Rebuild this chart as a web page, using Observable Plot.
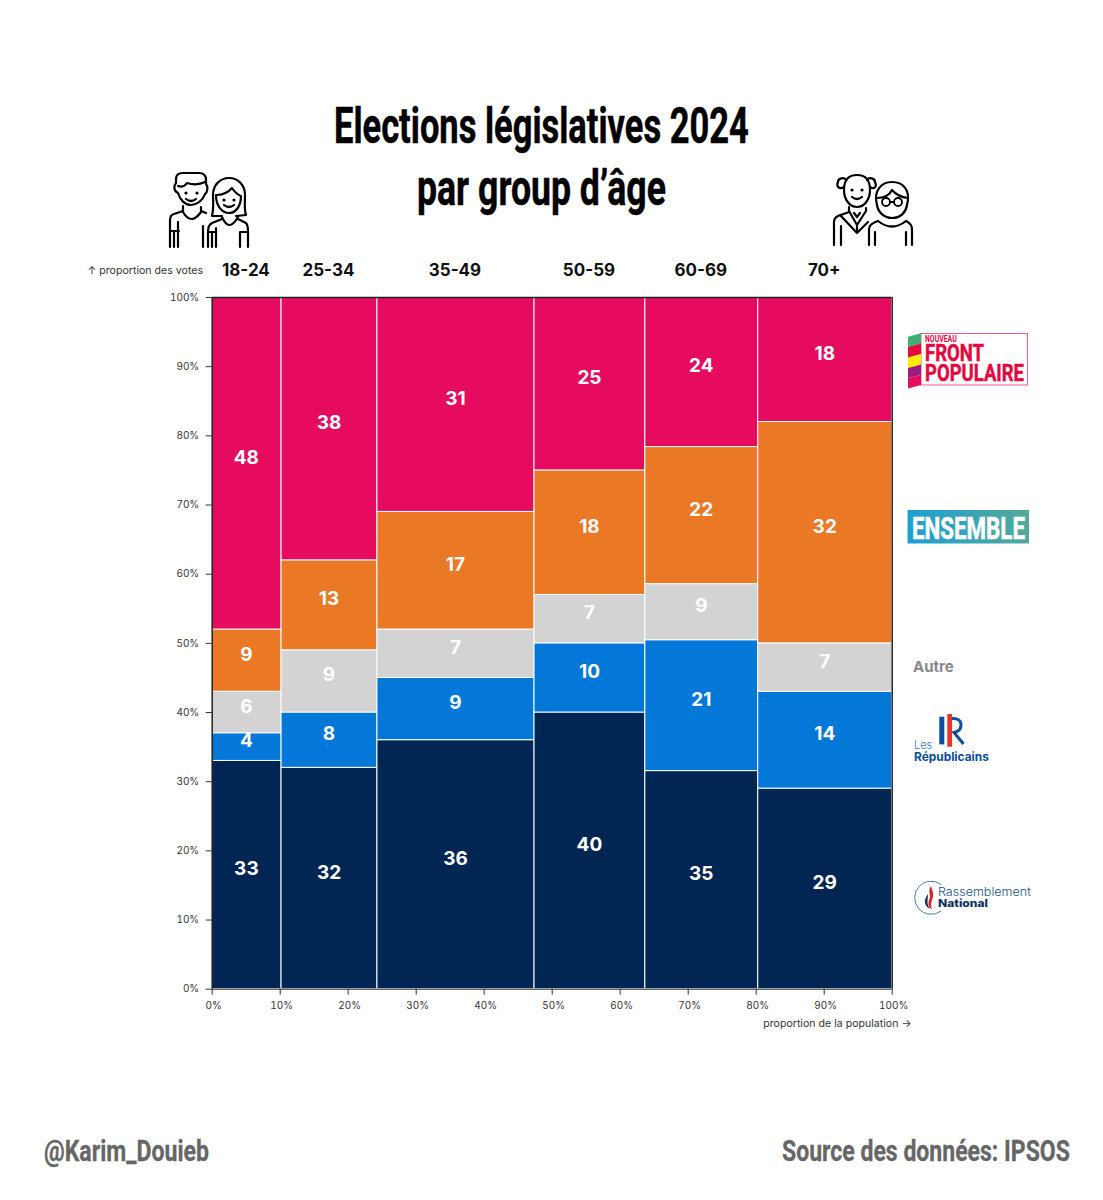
<!DOCTYPE html>
<html lang="fr">
<head>
<meta charset="utf-8">
<script src="https://cdn.jsdelivr.net/npm/d3@7"></script>
<script src="https://cdn.jsdelivr.net/npm/@observablehq/plot@0.6"></script>
<style>
html,body{margin:0;padding:0;background:#fff;}
#page{position:relative;width:1103px;height:1200px;overflow:hidden;}
#chart{position:absolute;left:0;top:263px;}
#deco{position:absolute;left:0;top:0;}
.cond{font-family:"Roboto",sans-serif;font-weight:700;}
</style>
</head>
<body>
<div id="page">
<svg id="deco" width="1103" height="1200" viewBox="0 0 1103 1200" xmlns="http://www.w3.org/2000/svg">
  <defs><linearGradient id="ens"><stop offset="0" stop-color="#1e9fd2"/><stop offset="1" stop-color="#52a99a"/></linearGradient></defs>
  <text class="cond fit" data-w="415" x="334" y="143" font-size="50" fill="#000" stroke="#000" stroke-width=".5">Elections législatives 2024</text>
  <text class="cond fit" data-w="249" x="417" y="205" font-size="50" fill="#000" stroke="#000" stroke-width=".5">par group d’âge</text>
  <text class="cond fit" data-w="165" x="44" y="1161" font-size="30" fill="#666" stroke="#666" stroke-width=".3">@Karim_Douieb</text>
  <text class="cond fit" data-w="288" x="782" y="1161" font-size="30" fill="#666" stroke="#666" stroke-width=".3">Source des données: IPSOS</text>

  <!-- young couple -->
  <g fill="none" stroke="#000" stroke-width="2.2" stroke-linecap="round" stroke-linejoin="round">
    <path d="M178 193C173 191 174 185 176 183L176 179Q176 173 183 173L199 173Q206 173 206 180L206 184C208 186 208 192 205 194C203 200 197 205 191 205C185 205 180 200 178 193Z"/>
    <path d="M178 186Q184 188 187 183Q197 186 205 182"/>
    <path d="M186 199Q191 203 196 199"/>
    <path d="M183 206L183 212Q191 226 201 212L201 207"/>
    <path d="M183 211L174 214Q170 215 170 220L170 247M170 231L179 231M174 231L174 247M178 222L178 247M201 211L206 213M203 226L203 247"/>
    <path d="M212 216C214 208 213 200 213 195C213 184 221 178 229 178C238 178 245 185 245 195C245 203 244 210 246 215L236 216M212 216L222 216"/>
    <path d="M216 195Q226 195 232 188Q236 194 241 196C241 206 236 213 229 213C222 213 216 206 216 195Z"/>
    <path d="M224 205Q229 209 234 205"/>
    <path d="M222 217Q229 233 238 217M222 219L212 223Q208 225 208 232L208 247M208 232L216 232M212 232L212 247M216 228L216 247M238 219L246 223Q248 225 248 232L248 247M240 232L248 232M240 232L240 247"/>
  </g>
  <g fill="#000"><circle cx="186" cy="193" r="1.6"/><circle cx="197" cy="193" r="1.6"/><circle cx="224" cy="200" r="1.6"/><circle cx="234" cy="200" r="1.6"/></g>

  <!-- elderly couple -->
  <g fill="none" stroke="#000" stroke-width="2.2" stroke-linecap="round" stroke-linejoin="round">
    <path d="M844 190C844 180 848 175 857 175C866 175 870 180 870 190C870 200 864 207 857 207C850 207 844 200 844 190Z"/>
    <path d="M844 187C839 190 836 186 838 182C838 178 844 177 846 180M870 187C875 190 877 186 875 182C875 178 869 177 867 180"/>
    <path d="M852 197Q857 201 862 197"/>
    <path d="M849 207L849 211L857 225L866 211L866 208M849 212L838 216Q834 218 834 222L834 245M841 226L841 245M857 225L857 233M854 213L857 217L860 213M840 215L857 233L868 222"/>
    <path d="M877 205C873 190 882 182 892 182C903 182 911 190 907 205C906 212 901 218 892 218C884 218 878 212 877 205Z"/>
    <path d="M877 198Q888 198 892 190Q898 197 908 198"/>
    <path d="M878 221Q892 232 906 221M869 245L869 229Q869 224 878 221M912 245L912 229Q912 224 906 221M875 232L875 245M906 232L906 245"/>
    <g stroke-width="1.8"><circle cx="886" cy="202" r="4"/><circle cx="898" cy="202" r="4"/><path d="M890 202L894 202"/></g>
  </g>
  <g fill="#000"><circle cx="852" cy="190" r="1.6"/><circle cx="862" cy="190" r="1.6"/></g>

  <!-- Nouveau Front Populaire -->
  <rect x="921" y="333.5" width="106.5" height="51.5" fill="#fff" stroke="#ee5c8b" stroke-width="1"/>
  <polygon points="908,336.7 921,333.3 921,343.5 908,347" fill="#3bb273"/>
  <polygon points="908,347 921,343.5 921,354 908,357.5" fill="#e6073f"/>
  <polygon points="908,357.5 921,354 921,364.5 908,368" fill="#ffed00"/>
  <polygon points="908,368 921,364.5 921,375 908,378" fill="#9b1b82"/>
  <polygon points="908,378 921,375 921,385 908,388.5" fill="#e60b5f"/>
  <text class="cond fit" data-w="99" x="925" y="381" font-size="24" fill="#e6073f" stroke="#e6073f" stroke-width=".5"><tspan x="925" y="342.5" font-size="9" stroke="none">NOUVEAU</tspan><tspan x="925" y="361.5">FRONT</tspan><tspan x="925" y="381" data-ref="1">POPULAIRE</tspan></text>

  <!-- Ensemble -->
  <rect x="907.5" y="510" width="121.5" height="33.5" fill="url(#ens)"/>
  <text class="cond fit" data-w="113" x="912" y="539" font-size="31" fill="#fff" stroke="#fff" stroke-width=".6">ENSEMBLE</text>

  <!-- Autre -->
  <text x="913" y="672" font-family="Inter" font-weight="700" font-size="15" fill="#888">Autre</text>

  <!-- Les Républicains -->
  <rect x="939.3" y="716.7" width="5" height="27.7" fill="#0c4da2"/>
  <rect x="947.3" y="714" width="4.8" height="32.7" fill="#e6352b"/>
  <path d="M952 718.5Q961 718 961 725Q961 731 954 732.5L963.5 744" fill="none" stroke="#0c4da2" stroke-width="3"/>
  <text class="fit" data-w="75" x="914" y="761" font-family="Inter" font-weight="700" font-size="12" fill="#0c4da2"><tspan x="914" y="749" font-weight="300" font-size="11" fill="#3f78c0">Les</tspan><tspan x="914" y="761" data-ref="1">Républicains</tspan></text>

  <!-- Rassemblement National -->
  <path d="M941 884.5A16.5 16.5 0 1 0 941 911" fill="none" stroke="#4a7aa5" stroke-width="1"/>
  <path d="M931 886C927 892 932 895 929 900C928 904 928 908 932 909C929 904 934 898 933 893Z" fill="#d8232a"/>
  <path d="M928 894C924 899 923 905 930 909C926 904 928 899 928 894Z" fill="#12335f"/>
  <text class="fit" data-w="93" x="938" y="896" font-family="Inter" font-weight="300" font-size="11" fill="#24527f">Rassemblement</text>
  <text class="fit" data-w="50" x="938" y="907" font-family="Inter" font-weight="800" font-size="11" fill="#12335f">National</text>
</svg>
<div id="chart"></div>
</div>
<script>
const ages = ["18-24","25-34","35-49","50-59","60-69","70+"];
const populationShare = [10.2,14.1,23.1,16.3,16.6,19.7];
const parties = ["RN","LR","Autre","Ensemble","NFP"];
const partyColors = ["#012654","#0478d9","#d3d3d3","#ea7825","#e60b5f"];
const rnVotes = [33,32,36,40,35,29];
const lrVotes = [4,8,9,10,21,14];
const autreVotes = [6,9,7,7,9,7];
const ensembleVotes = [9,13,17,18,22,32];
const nfpVotes = [48,38,31,25,24,18];
const percentTicks = [0,10,20,30,40,50,60,70,80,90,100];

// condense each display text horizontally to the width it has in the reference
document.querySelectorAll("#deco text.fit").forEach(el=>{
  const x=+el.getAttribute("x"), y=+el.getAttribute("y"), w=+el.dataset.w;
  const ref=el.querySelector("[data-ref]")||el;
  const k=w/ref.getComputedTextLength();
  el.setAttribute("transform",`translate(${x} ${y}) scale(${k} 1) translate(${-x} ${-y})`);
});

const series = [rnVotes,lrVotes,autreVotes,ensembleVotes,nfpVotes];
const edges = [0,...d3.cumsum(populationShare)];
const cells = [];
ages.forEach((age,i)=>{
  const total = d3.sum(series,s=>s[i]);
  let acc = 0;
  parties.forEach((party,j)=>{
    const v = series[j][i];
    const y1 = acc/total*100; acc += v; const y2 = acc/total*100;
    cells.push({age,party,value:v,x1:edges[i],x2:edges[i+1],y1,y2,xm:(edges[i]+edges[i+1])/2,ym:(y1+y2)/2});
  });
});
const ageRows = ages.map((age,i)=>({age,xm:(edges[i]+edges[i+1])/2}));

const fmt = d=>d+"%";
const blank = ()=>"";
const plot = Plot.plot({
  width:914, height:776,
  marginLeft:211.7, marginRight:22.3, marginTop:34, marginBottom:50.3,
  style:{fontFamily:"Inter",fontSize:"10px",color:"#333",background:"transparent",overflow:"visible"},
  x:{domain:[0,100]},
  y:{domain:[0,100]},
  color:{domain:parties,range:partyColors},
  marks:[
    Plot.rect(cells,{x1:"x1",x2:"x2",y1:"y1",y2:"y2",fill:"party",stroke:"#fff",strokeWidth:1}),
    Plot.ruleY([100],{stroke:"#222",strokeWidth:1.5}),
    Plot.ruleX([0,100],{stroke:"#222",strokeWidth:1.5}),
    Plot.ruleY([0],{stroke:"#666",strokeWidth:1.5}),
    Plot.text(cells,{x:"xm",y:"ym",text:d=>String(d.value),fill:"#fff",fontSize:19,fontWeight:700,dy:-6,dx:-0.5}),
    Plot.text(ageRows,{x:"xm",y:()=>100,text:"age",fill:"#111",fontSize:17,fontWeight:700,dy:-27,dx:-1}),
    Plot.axisX({ticks:percentTicks,tickFormat:blank,tickSize:6,label:null,stroke:"#333"}),
    Plot.axisX({ticks:percentTicks,tickFormat:fmt,tickSize:0,tickPadding:13,dx:1.5,label:null}),
    Plot.axisX({ticks:[],tickSize:0,fontSize:10.6,label:"proportion de la population →",labelArrow:"none",labelOffset:38}),
    Plot.axisY({ticks:percentTicks,tickFormat:fmt,tickSize:6,tickPadding:7,label:null,stroke:"#333"}),
    Plot.axisY({ticks:[],tickSize:0,fontSize:10.6,label:"↑ proportion des votes",labelArrow:"none",labelAnchor:"top",labelOffset:124.7})
  ]
});
document.getElementById("chart").appendChild(plot);
</script>
</body>
</html>
